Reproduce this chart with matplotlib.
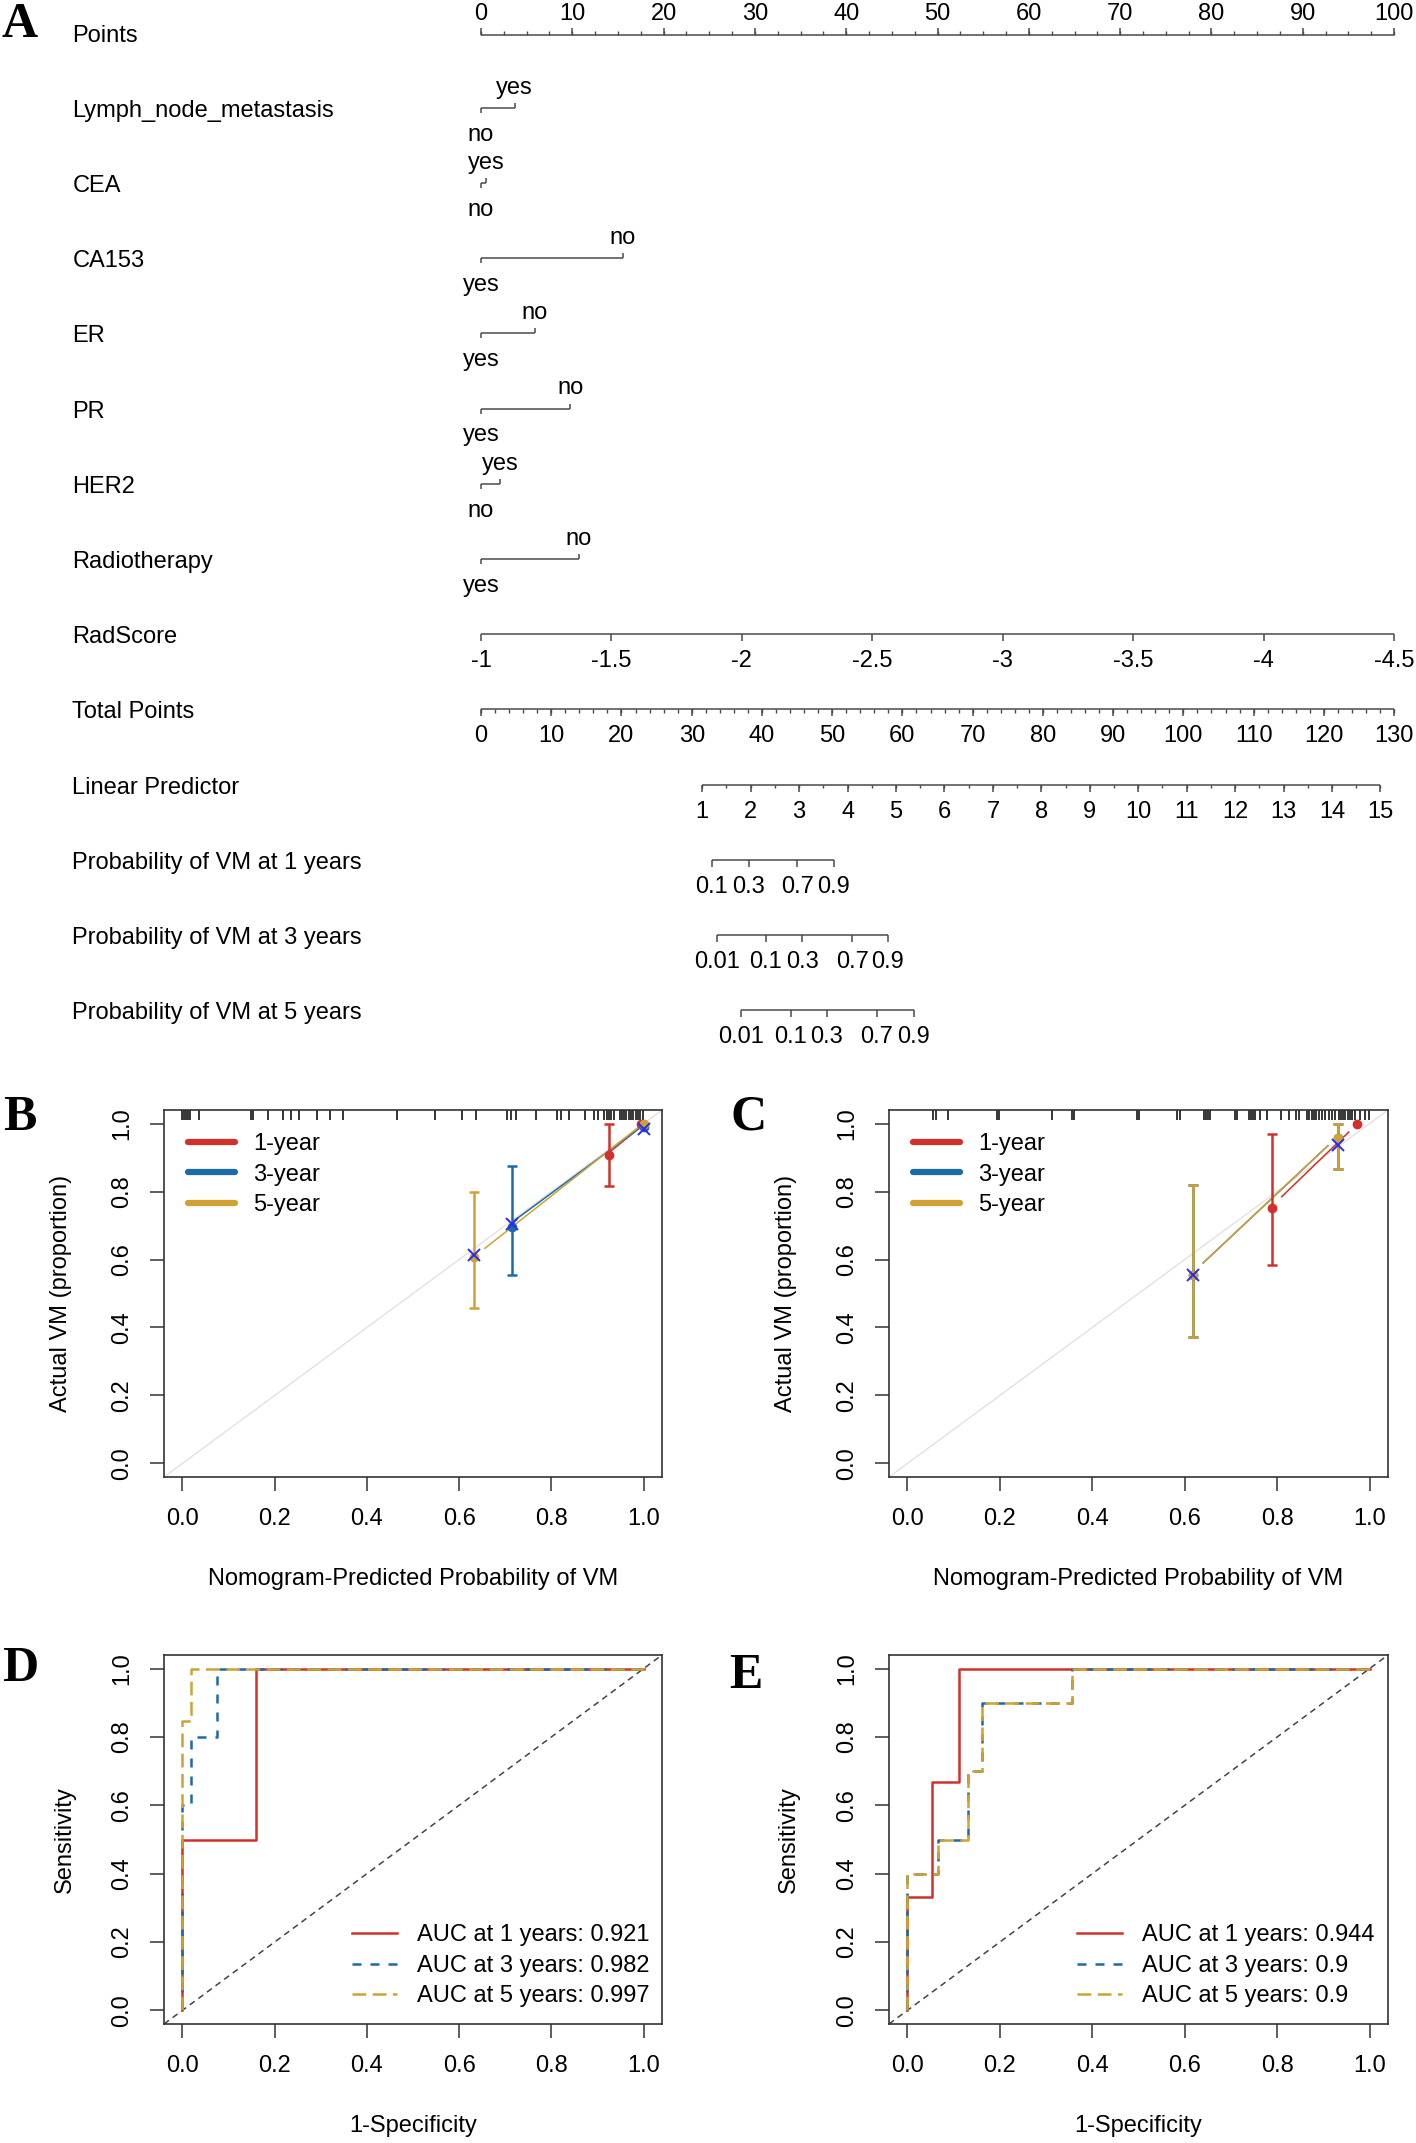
import matplotlib
matplotlib.use("Agg")
import matplotlib.pyplot as plt
import matplotlib.transforms as mtransforms
from matplotlib.lines import Line2D
import numpy as np

plt.rcParams["font.family"] = ["Liberation Sans", "DejaVu Sans"]

W, H, DPI = 1416, 2143, 100
FS = 17
AX_COLOR = "#4a4a4a"
RED, BLUE, GOLD = "#D3302B", "#1C6AA6", "#CFA233"
XBLUE = "#2B2BF0"

# ---------------- A: nomogram ----------------
POINTS_MAJOR = np.arange(0, 101, 10)
POINTS_MINOR = np.arange(0, 100.1, 2.5)

CAT_VARS = ["Lymph_node_metastasis", "CEA", "CA153", "ER", "PR", "HER2", "Radiotherapy"]
CAT_ZERO_LEVEL = ["no", "no", "yes", "yes", "yes", "no", "yes"]
CAT_TOP_LEVEL = ["yes", "yes", "no", "no", "no", "yes", "no"]
CAT_TOP_POINTS = [3.7, 0.6, 15.5, 5.9, 9.8, 2.1, 10.7]

RADSCORE_TICKS = [-1, -1.5, -2, -2.5, -3, -3.5, -4, -4.5]
RADSCORE_ZERO, RADSCORE_FULL = -1.0, -4.5       # values at 0 and 100 points

TOTAL_MAJOR = np.arange(0, 131, 10)
TOTAL_MINOR = np.arange(0, 130.1, 2)
TOTAL_MAX = 130

LP_MAJOR = np.arange(1, 16)
LP_MINOR = np.arange(1, 15.01, 0.5)
LP_AT = (1, 15)              # linear predictor values ...
LP_TOTAL_AT = (31.5, 128.05)  # ... and the total points where they sit

PROB_NAMES = ["Probability of VM at 1 years", "Probability of VM at 3 years",
              "Probability of VM at 5 years"]
PROB_TICKS = [[0.1, 0.3, 0.7, 0.9],
              [0.01, 0.1, 0.3, 0.7, 0.9],
              [0.01, 0.1, 0.3, 0.7, 0.9]]
PROB_TICK_LP = [[1.20, 1.96, 2.96, 3.71],
                [1.30, 2.31, 3.06, 4.10, 4.83],
                [1.80, 2.83, 3.57, 4.60, 5.37]]

# ---------------- B/C: calibration ----------------
CAL_LABELS = ["1-year", "3-year", "5-year"]

B_PRED = [[0.925, 0.995], [0.715, 1.0], [0.632, 1.0]]
B_OBS = [[0.908, 1.0], [0.695, 0.99], [0.607, 1.0]]
B_LO = [[0.815, np.nan], [0.555, np.nan], [0.458, np.nan]]
B_HI = [[1.0, np.nan], [0.875, np.nan], [0.80, np.nan]]
B_CURVE_X = [[0.93, 0.98], [0.72, 0.99], [0.656, 0.99]]
B_CURVE_Y = [[0.92, 0.975], [0.715, 0.985], [0.633, 0.99]]
B_CORR_X = [0.632, 0.715, 1.0]
B_CORR_Y = [0.612, 0.705, 0.985]
B_RUG = [0.0, 0.004, 0.008, 0.012, 0.016, 0.035, 0.148, 0.153, 0.186, 0.218,
         0.236, 0.253, 0.292, 0.321, 0.349, 0.466, 0.548, 0.607, 0.636, 0.703,
         0.712, 0.723, 0.767, 0.813, 0.820, 0.839, 0.872, 0.893, 0.901, 0.915,
         0.92, 0.925, 0.93, 0.935, 0.948, 0.953, 0.958, 0.963, 0.968, 0.973,
         0.978, 0.983, 0.988, 0.993, 0.998]

C_PRED = [[0.79, 0.972], [0.617, 0.932], [0.617, 0.932]]
C_OBS = [[0.752, 1.0], [0.553, 0.958], [0.553, 0.958]]
C_LO = [[0.585, np.nan], [0.372, 0.867], [0.372, 0.867]]
C_HI = [[0.97, np.nan], [0.82, 1.0], [0.82, 1.0]]
C_CURVE_X = [[0.81, 0.955], [0.64, 0.91], [0.64, 0.91]]
C_CURVE_Y = [[0.785, 0.975], [0.59, 0.935], [0.59, 0.935]]
C_CORR_X = [0.617, 0.932]
C_CORR_Y = [0.553, 0.937]
C_RUG = [0.055, 0.062, 0.088, 0.194, 0.198, 0.312, 0.356, 0.360, 0.497, 0.501,
         0.584, 0.589, 0.641, 0.646, 0.650, 0.655, 0.708, 0.713, 0.739, 0.744,
         0.748, 0.753, 0.764, 0.778, 0.809, 0.825, 0.841, 0.848, 0.865, 0.870,
         0.875, 0.880, 0.885, 0.890, 0.897, 0.904, 0.912, 0.919, 0.926, 0.933,
         0.938, 0.943, 0.948, 0.953, 0.958, 0.962, 0.969, 0.980, 0.991, 0.998]

# ---------------- D/E: time-dependent ROC ----------------
D_FPR = [[0, 0, 0.16, 0.16, 1],
         [0, 0, 0.019, 0.019, 0.074, 0.074, 1],
         [0, 0, 0.019, 0.019, 1]]
D_TPR = [[0, 0.5, 0.5, 1, 1],
         [0, 0.6, 0.6, 0.8, 0.8, 1, 1],
         [0, 0.846, 0.846, 1, 1]]
D_AUC = ["0.921", "0.982", "0.997"]

E_FPR = [[0, 0, 0.054, 0.054, 0.111, 0.111, 1],
         [0, 0, 0.065, 0.065, 0.13, 0.13, 0.162, 0.162, 0.355, 0.355, 1],
         [0, 0, 0.065, 0.065, 0.13, 0.13, 0.162, 0.162, 0.355, 0.355, 1]]
E_TPR = [[0, 0.333, 0.333, 0.667, 0.667, 1, 1],
         [0, 0.4, 0.4, 0.5, 0.5, 0.7, 0.7, 0.9, 0.9, 1, 1],
         [0, 0.4, 0.4, 0.5, 0.5, 0.7, 0.7, 0.9, 0.9, 1, 1]]
E_AUC = ["0.944", "0.9", "0.9"]
YEARS = [1, 3, 5]

fig = plt.figure(figsize=(W / DPI, H / DPI), dpi=DPI)

# nomogram canvas: x in "Points" units, y in pixels from the top
PTS_X0, PTS_PX = 481.0, 9.131
axn = fig.add_axes([0, 0, 1, 1])
axn.set_xlim(-PTS_X0 / PTS_PX, (W - PTS_X0) / PTS_PX)
axn.set_ylim(H, 0)
axn.axis("off")
lab_tr = mtransforms.blended_transform_factory(fig.transFigure, axn.transData)

ROW_Y0, ROW_STEP = 35.5, 75.2


def row_y(i):
    return ROW_Y0 + ROW_STEP * i


def row_label(i, text):
    axn.text(72.5 / W, row_y(i), text, transform=lab_tr, ha="left", va="center",
             fontsize=FS)


def scale(i, pos, labels, minor=None, above=False):
    y = row_y(i) - (1 if above else 3)
    d = -1 if above else 1
    axn.hlines(y, min(pos), max(pos), color=AX_COLOR, lw=1.1)
    axn.vlines(pos, y, y + d * 7, color=AX_COLOR, lw=1.1)
    if minor is not None:
        axn.vlines(minor, y, y + d * 3.5, color=AX_COLOR, lw=1.0)
    for p, t in zip(pos, labels):
        axn.text(p, y - 15 if above else y + 33, t, ha="center", va="baseline",
                 fontsize=FS)


def total_to_pts(t):
    return np.asarray(t, float) * 100.0 / TOTAL_MAX


def lp_to_pts(lp):
    lp = np.asarray(lp, float)
    tot = LP_TOTAL_AT[0] + (lp - LP_AT[0]) * (LP_TOTAL_AT[1] - LP_TOTAL_AT[0]) / (LP_AT[1] - LP_AT[0])
    return total_to_pts(tot)


# Points
row_label(0, "Points")
scale(0, POINTS_MAJOR, [f"{v:g}" for v in POINTS_MAJOR], POINTS_MINOR, above=True)

# categorical predictors
for k, name in enumerate(CAT_VARS):
    i = k + 1
    y = row_y(i) - 3
    top = CAT_TOP_POINTS[k]
    row_label(i, name)
    axn.hlines(y, 0, top, color=AX_COLOR, lw=1.1)
    axn.vlines(0, y, y + 5, color=AX_COLOR, lw=1.1)
    axn.vlines(top, y - 5, y, color=AX_COLOR, lw=1.1)
    axn.text(0, y + 33, CAT_ZERO_LEVEL[k], ha="center", va="baseline", fontsize=FS)
    axn.text(top, y - 14, CAT_TOP_LEVEL[k], ha="center", va="baseline", fontsize=FS)

# RadScore
row_label(8, "RadScore")
rad_pts = (np.array(RADSCORE_TICKS) - RADSCORE_ZERO) / (RADSCORE_FULL - RADSCORE_ZERO) * 100
scale(8, rad_pts, [f"{v:g}" for v in RADSCORE_TICKS])

# Total points
row_label(9, "Total Points")
scale(9, total_to_pts(TOTAL_MAJOR), [f"{v:g}" for v in TOTAL_MAJOR], total_to_pts(TOTAL_MINOR))

# Linear predictor
row_label(10, "Linear Predictor")
scale(10, lp_to_pts(LP_MAJOR), [f"{v:g}" for v in LP_MAJOR], lp_to_pts(LP_MINOR))

# probabilities
for k, name in enumerate(PROB_NAMES):
    row_label(11 + k, name)
    scale(11 + k, lp_to_pts(PROB_TICK_LP[k]), [f"{v:g}" for v in PROB_TICKS[k]])


# ---------------- framed panels ----------------
def framed(left_px, top_px, w_px, h_px):
    ax = fig.add_axes([left_px / W, 1 - (top_px + h_px) / H, w_px / W, h_px / H])
    ax.set_xlim(-0.04, 1.04)
    ax.set_ylim(-0.04, 1.04)
    ticks = np.arange(0, 1.01, 0.2)
    ax.set_xticks(ticks)
    ax.set_yticks(ticks)
    ax.set_xticklabels([f"{t:.1f}" for t in ticks])
    ax.set_yticklabels([f"{t:.1f}" for t in ticks], rotation=90, va="center")
    ax.tick_params(length=10, width=1.1, pad=12, labelsize=FS, color="#333333")
    for s in ax.spines.values():
        s.set_linewidth(1.2)
        s.set_color("#333333")
    return ax


def set_labels(ax, xlabel, ylabel, ylab_x):
    ax.set_xlabel(xlabel, fontsize=FS)
    ax.xaxis.set_label_coords(0.5, -0.277)
    ax.xaxis.label.set_verticalalignment("center")
    ax.set_ylabel(ylabel, fontsize=FS)
    ax.yaxis.set_label_coords(ylab_x, 0.5)
    ax.yaxis.label.set_verticalalignment("center")


COLORS = [RED, BLUE, GOLD]


def calibration(ax, pred, obs, lo, hi, cx, cy, corr_x, corr_y, rug):
    ax.axline((0, 0), slope=1, color="#e2e2e2", lw=1.0, zorder=1)
    rug_tr = mtransforms.blended_transform_factory(ax.transData, ax.transAxes)
    ax.vlines(rug, 0.972, 1.0, transform=rug_tr, color="black", lw=1.1)
    for k, c in enumerate(COLORS):
        ax.plot(cx[k], cy[k], color=c, lw=1.1, zorder=2)
        lo_k, hi_k = np.array(lo[k]), np.array(hi[k])
        m = ~np.isnan(lo_k)
        px, py = np.array(pred[k])[m], np.array(obs[k])[m]
        ax.errorbar(px, py, yerr=[py - lo_k[m], hi_k[m] - py], fmt="none",
                    ecolor=c, elinewidth=1.8, capsize=3.6, capthick=1.8, zorder=3)
        ax.plot(pred[k], obs[k], "o", color=c, ms=6, zorder=4)
    ax.plot(corr_x, corr_y, "x", color=XBLUE, ms=8, mew=1.4, zorder=5)
    handles = [Line2D([], [], color=c, lw=4.5, solid_capstyle="round") for c in COLORS]
    ax.legend(handles, CAL_LABELS, loc="upper left", bbox_to_anchor=(0.048, 0.937),
              frameon=False, fontsize=FS, handlelength=2.0, handletextpad=0.75,
              labelspacing=0.36, borderpad=0, borderaxespad=0)
    set_labels(ax, "Nomogram-Predicted Probability of VM", "Actual VM (proportion)", -0.206)


def roc(ax, fpr, tpr, aucs):
    ax.axline((0, 0), slope=1, color="#444444", lw=1.1, dashes=(4, 3))
    styles = [dict(), dict(dashes=(3.6, 3.6)), dict(dashes=(5.5, 2.6))]
    handles = []
    for k, c in enumerate(COLORS):
        (ln,) = ax.plot(fpr[k], tpr[k], color=c, lw=1.8, **styles[k])
        handles.append(ln)
    labels = [f"AUC at {y} years: {a}" for y, a in zip(YEARS, aucs)]
    ax.legend(handles, labels, loc="lower left", bbox_to_anchor=(0.377, 0.045),
              frameon=False, fontsize=FS, handlelength=1.9, handletextpad=0.85,
              labelspacing=0.36, borderpad=0, borderaxespad=0)
    set_labels(ax, "1-Specificity", "Sensitivity", -0.20)


axB = framed(164, 1110, 498, 367)
calibration(axB, B_PRED, B_OBS, B_LO, B_HI, B_CURVE_X, B_CURVE_Y, B_CORR_X, B_CORR_Y, B_RUG)
axC = framed(889, 1110, 499, 367)
calibration(axC, C_PRED, C_OBS, C_LO, C_HI, C_CURVE_X, C_CURVE_Y, C_CORR_X, C_CORR_Y, C_RUG)
axD = framed(164, 1655, 498, 369)
roc(axD, D_FPR, D_TPR, D_AUC)
axE = framed(889, 1655, 499, 369)
roc(axE, E_FPR, E_TPR, E_AUC)

# panel letters
for letter, (x, y) in zip("ABCDE", [(20, 25), (20, 1118), (749, 1118), (20, 1669), (746, 1676)]):
    fig.text(x / W, 1 - y / H, letter, fontsize=36, weight="bold",
             family=["Liberation Serif", "DejaVu Serif"], ha="center", va="center")

fig.savefig("out.png", dpi=DPI)
